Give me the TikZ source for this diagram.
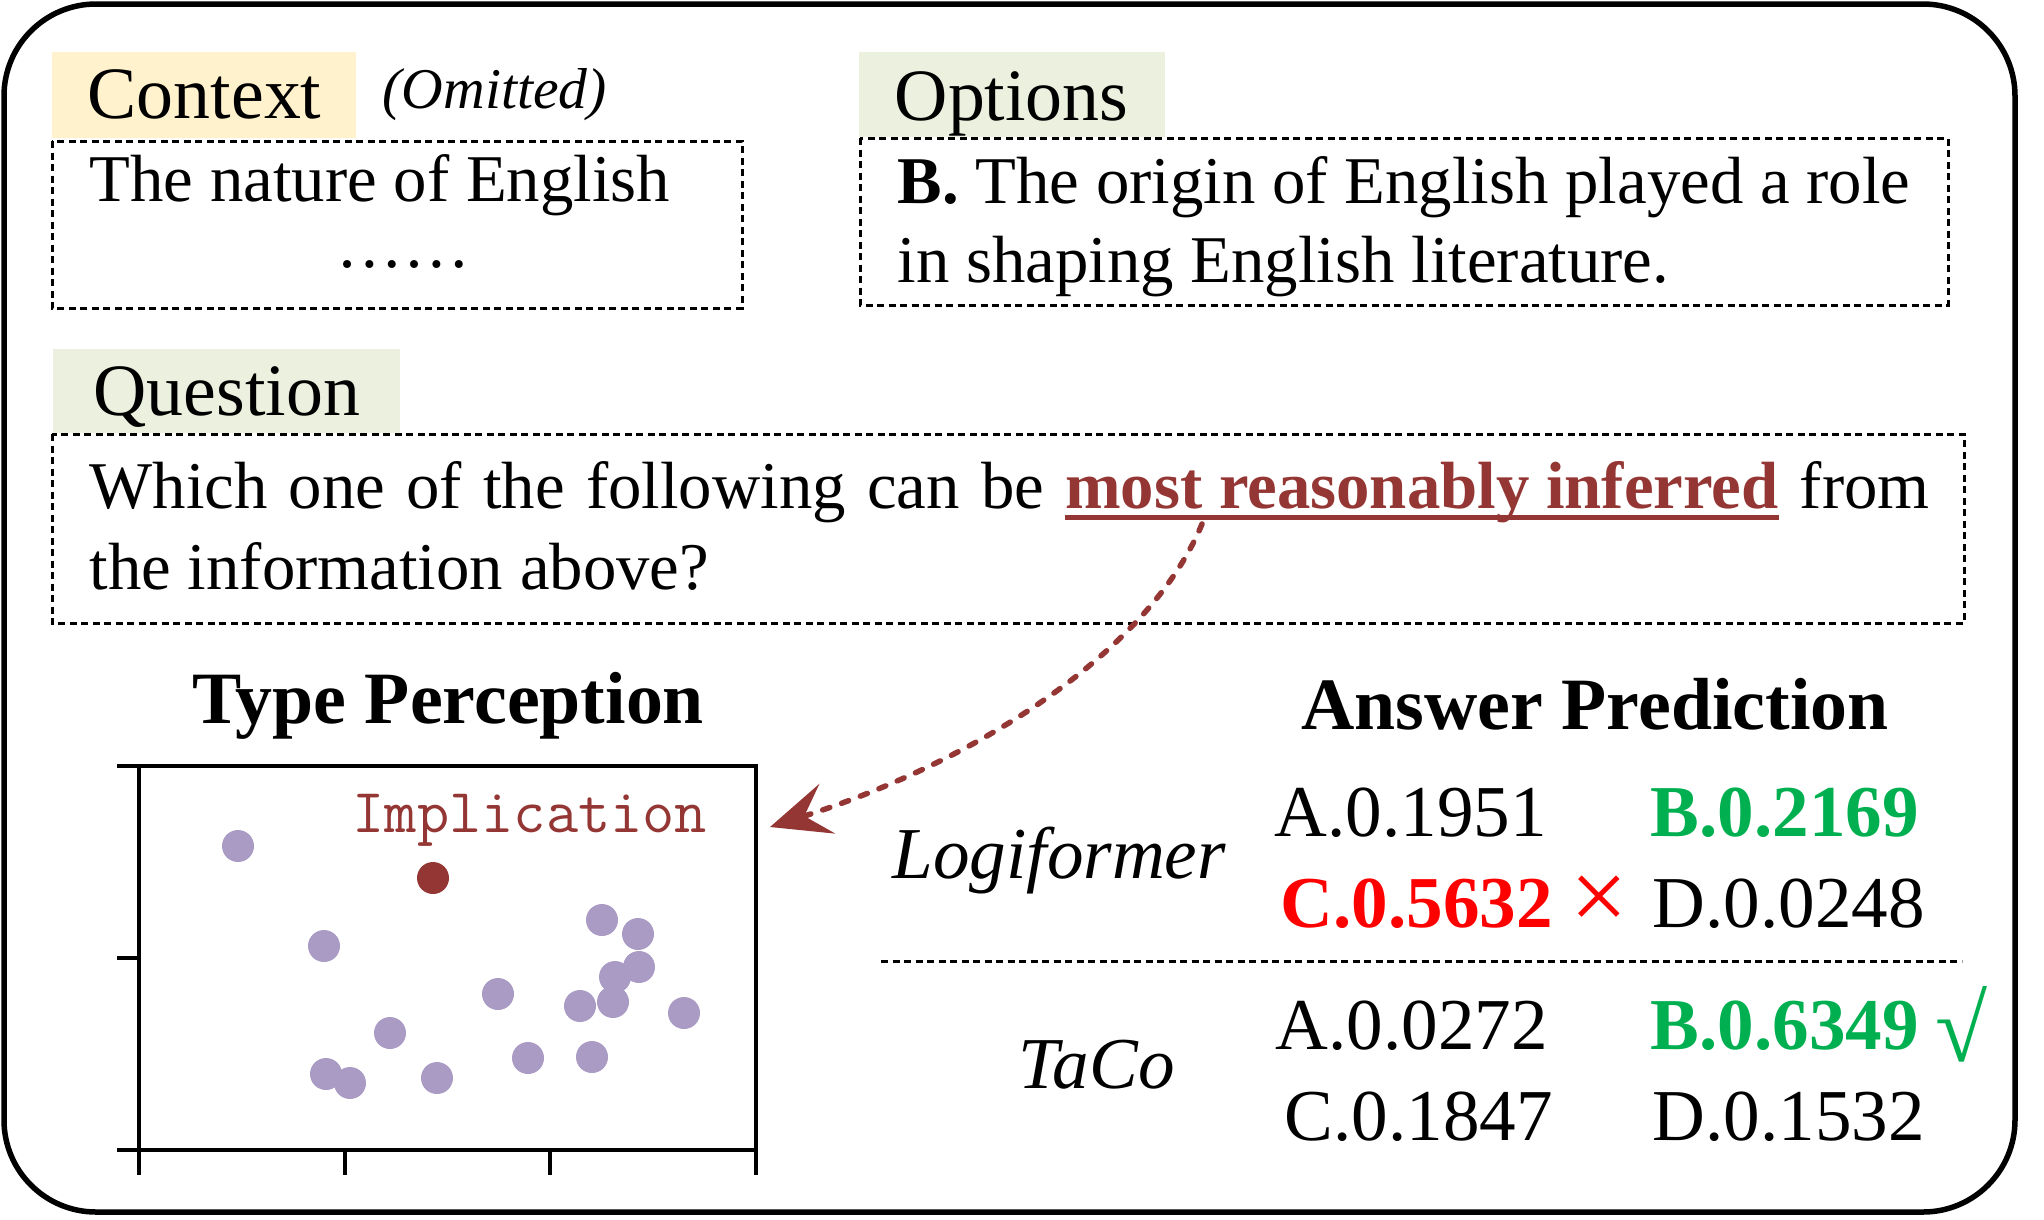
\documentclass[tikz,border=0pt]{standalone}
\usepackage{fontspec}
\setmainfont{Liberation Serif}
\usetikzlibrary{arrows.meta}
\definecolor{ctxyellow}{HTML}{FFF2CC}
\definecolor{lblgreen}{HTML}{EBF1DE}
\definecolor{darkred}{HTML}{943634}
\definecolor{okgreen}{HTML}{00B050}
\definecolor{badred}{HTML}{FF0000}
\definecolor{dotpurple}{HTML}{A99BC4}
\newcommand\myul[1]{\setbox0\hbox{#1}\rlap{\color{darkred}\rule[-1.15mm]{\wd0}{0.5mm}}\box0\relax}
\begin{document}
\begin{tikzpicture}[x=0.1mm,y=-0.1mm,
  txt/.style={inner sep=0pt, anchor=base west},
  body/.style={txt, font=\fontsize{19}{23}\selectfont},
  lbl/.style={txt, font=\fontsize{21}{25}\selectfont},
  ans/.style={txt, font=\fontsize{20.8}{25}\selectfont},
  ansb/.style={txt, font=\fontsize{20.8}{25}\selectfont\bfseries},
  ansi/.style={txt, font=\fontsize{20.8}{25}\selectfont\itshape},
  title/.style={inner sep=0pt, anchor=base, font=\fontsize{21}{25}\selectfont\bfseries},
  dotbox/.style={draw, line width=0.3mm, dash pattern=on 0.7mm off 0.45mm},
  axisline/.style={line width=0.35mm},
  scatpt/.style={circle, fill=dotpurple, inner sep=0pt, minimum size=3.2mm}]
\useasboundingbox (0,0) rectangle (2044,1219);
% outer frame
\draw[line width=0.55mm, rounded corners=9.2mm] (4,4) rectangle (2015,1212);
% label fills
\fill[ctxyellow] (52,52) rectangle (356,138);
\fill[lblgreen] (859,52) rectangle (1165,137);
\fill[lblgreen] (53,349) rectangle (400,433);
% dotted boxes
\draw[dotbox] (52,141) rectangle (742,308);
\draw[dotbox] (860,138) rectangle (1948,305);
\draw[dotbox] (52,434) rectangle (1964,623);
% texts
\node[lbl] (ctxlbl) at (87,118) {Context};
\node[txt, font=\fontsize{16.4}{20}\selectfont\itshape] (omit) at (382,108) {(Omitted)};
\node[lbl] (optlbl) at (894,120) {Options};
\node[body] (ctx1) at (89,201) {The nature of English};
\node[body, anchor=base] (ctx2) at (403,267) {……};
\node[body] (opt1) at (897,203) {\textbf{B.} The origin of English played a role};
\node[body] (opt2) at (897,282) {in shaping English literature.};
\node[lbl] (qlbl) at (93,415) {Question};
\node[body] (q1) at (89,508) {\makebox[184mm][s]{Which one of the following can be \myul{\textcolor{darkred}{\bfseries most reasonably inferred}} from}};
\node[body] (q2) at (89,589) {the information above?};
% titles
\node[title] (tp) at (448,723) {Type Perception};
\node[title] (ap) at (1595,729) {Answer Prediction};
% plot
\draw[axisline] (139,766) rectangle (756,1150);
\foreach \y in {766,958,1150} \draw[axisline] (117,\y) -- (139,\y);
\foreach \x in {139,345,550,756} \draw[axisline] (\x,1150) -- (\x,1175);
\foreach \px/\py [count=\i] in {238/846,324/946,602/920,638/934,639/967,615/977,498/994,580/1006,613/1002,684/1013,390/1033,528/1058,592/1057,326/1074,350/1083,437/1078}
  \node[scatpt] (p\i) at (\px,\py) {};
\node[txt, font=\ttfamily\fontsize{17.8}{20}\selectfont, text=darkred] (impl) at (352,832) {Implication};
\node[scatpt, fill=darkred] (implpt) at (433,878) {};
% answers
\node[ansi] (logi) at (892,878) {Logiformer};
\node[ans] (la) at (1274,836) {A.0.1951};
\node[ansb, text=okgreen] (lb) at (1650,836) {B.0.2169};
\node[ansb, text=badred] (lc) at (1280,927) {C.0.5632};
\node[inner sep=0pt, font=\fontsize{29}{30}\selectfont, text=badred] (lx) at (1599,903) {×};
\node[ans] (ld) at (1652,927) {D.0.0248};
\draw[dotbox] (881,961) -- (1962,961);
\node[ansi] (taco) at (1018,1088) {TaCo};
\node[ans] (ta) at (1275,1049) {A.0.0272};
\node[ansb, text=okgreen] (tb) at (1650,1049) {B.0.6349};
\node[inner sep=0pt, font=\fontsize{27}{30}\selectfont\bfseries, text=okgreen] (tchk) at (1962,1024) {√};
\node[ans] (tc) at (1284,1140) {C.0.1847};
\node[ans] (td) at (1652,1140) {D.0.1532};
% arrow
\coordinate (arrS) at (1202,524);
\coordinate (arrE) at (770,827);
\draw[darkred, line width=0.55mm, dash pattern=on 0.75mm off 1.25mm, line cap=round,
  -{Stealth[length=6mm,width=5.2mm,inset=2.4mm]}]
  (arrS) .. controls (1150,650) and (980,760) .. (arrE);
\end{tikzpicture}
\end{document}
